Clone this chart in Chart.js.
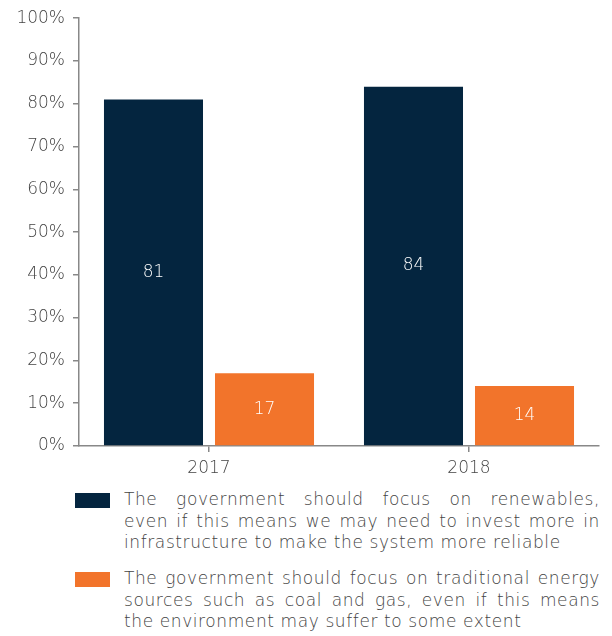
<!DOCTYPE html>
<html>
<head>
<meta charset="utf-8">
<script src="https://cdn.jsdelivr.net/npm/chart.js@4.4.0/dist/chart.umd.min.js"></script>
<style>
  html, body { margin:0; padding:0; background:#fff; }
  body { width:612px; height:636px; overflow:hidden; font-family:"DejaVu Sans", sans-serif; }
  #wrap { position:relative; width:612px; height:480px; }
  .legend { position:absolute; left:75px; width:525px; color:#444; font-size:17px; line-height:21.5px; font-weight:300; letter-spacing:0.6px; }
  .legend .box { position:absolute; left:0; top:4px; width:35px; height:15px; }
  .legend .txt { margin-left:49px; }
  .legend .ln { text-align:justify; text-align-last:justify; white-space:nowrap; }
  .legend .ln:last-child { text-align-last:left; }
</style>
</head>
<body>
<div id="wrap"><canvas id="chart" width="612" height="480"></canvas></div>
<div class="legend" style="top:489px"><div class="box" style="background:#04253f"></div><div class="txt" id="lg0"></div></div>
<div class="legend" style="top:568px"><div class="box" style="background:#f2742b"></div><div class="txt" id="lg1"></div></div>
<script>
const years = ["2017", "2018"];
const renewables = [81, 84];
const traditional = [17, 14];
const seriesLines = [
  ["The government should focus on renewables,",
   "even if this means we may need to invest more in",
   "infrastructure to make the system more reliable"],
  ["The government should focus on traditional energy",
   "sources such as coal and gas, even if this means",
   "the environment may suffer to some extent"]
];
const seriesNames = seriesLines.map(l => l.join(" "));
const colors = ["#04253f", "#f2742b"];
const FONT = "'DejaVu Sans', sans-serif";

seriesLines.forEach((lines, i)=>{
  const el = document.getElementById("lg" + i);
  lines.forEach(t=>{
    const d = document.createElement("div");
    d.className = "ln";
    d.textContent = t;
    el.appendChild(d);
  });
});

// value labels centred inside each bar
const barLabels = {
  id: "barLabels",
  afterDatasetsDraw(chart){
    const ctx = chart.ctx;
    ctx.save();
    ctx.fillStyle = "#fff";
    ctx.font = "300 17px " + FONT;
    ctx.textAlign = "center";
    ctx.textBaseline = "middle";
    chart.data.datasets.forEach((ds, i)=>{
      chart.getDatasetMeta(i).data.forEach((bar, j)=>{
        const mid = (bar.y + bar.base) / 2;
        ctx.fillText(String(ds.data[j]), bar.x, mid);
      });
    });
    ctx.restore();
  }
};

new Chart(document.getElementById("chart").getContext("2d"), {
  type: "bar",
  data: {
    labels: years,
    datasets: [
      { label: seriesNames[0], data: renewables, backgroundColor: colors[0] },
      { label: seriesNames[1], data: traditional, backgroundColor: colors[1] }
    ]
  },
  options: {
    responsive: false,
    animation: false,
    layout: { padding: { top: 16, right: 13, left: 0, bottom: 0 } },
    categoryPercentage: 0.854,
    barPercentage: 0.892,
    plugins: { legend: { display: false }, tooltip: { enabled: false } },
    scales: {
      x: {
        offset: true,
        grid: { offset: false, drawOnChartArea: false, drawTicks: true, tickLength: 6, color: "#888", lineWidth: 1.5 },
        border: { display: true, color: "#888", width: 1.5 },
        ticks: { color: "#444", font: { family: FONT, size: 17, weight: 300 }, padding: 6 },
        afterFit(scale){ scale.height = 34; }
      },
      y: {
        min: 0, max: 100,
        ticks: { stepSize: 10, color: "#444", font: { family: FONT, size: 17, weight: 300 }, padding: 8, callback: v => v + "%" },
        grid: { drawOnChartArea: false, drawTicks: true, tickLength: 6, color: "#888", lineWidth: 1.5 },
        border: { display: true, color: "#888", width: 1.5 },
        afterFit(scale){ scale.width = 79; }
      }
    }
  },
  plugins: [barLabels]
});
</script>
</body>
</html>
